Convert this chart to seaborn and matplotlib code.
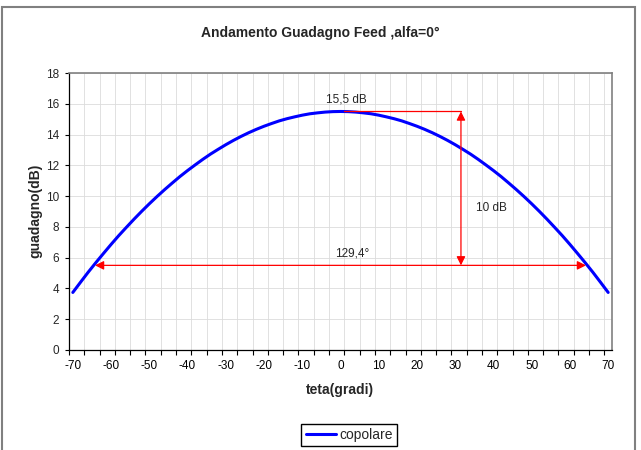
import matplotlib
matplotlib.use("Agg")
import matplotlib.pyplot as plt
import seaborn as sns
import pandas as pd
from matplotlib.patches import Rectangle
from matplotlib.lines import Line2D

# ---- data ----
teta = list(range(-70, 72, 2))
copolare = [3.74, 4.40, 5.05, 5.67, 6.27, 6.86, 7.43, 7.97, 8.50, 9.01,
            9.50, 9.97, 10.42, 10.85, 11.27, 11.66, 12.03, 12.39, 12.73, 13.04,
            13.34, 13.62, 13.88, 14.12, 14.34, 14.54, 14.72, 14.89, 15.03, 15.15,
            15.26, 15.35, 15.41, 15.46, 15.49,
            15.50,
            15.49, 15.46, 15.41, 15.35, 15.26, 15.15, 15.03, 14.89, 14.72, 14.54,
            14.34, 14.12, 13.88, 13.62, 13.34, 13.04, 12.73, 12.39, 12.03, 11.66,
            11.27, 10.85, 10.42, 9.97, 9.50, 9.01, 8.50, 7.97, 7.43, 6.86,
            6.27, 5.67, 5.05, 4.40, 3.74]
peak_gain = 15.5
drop_gain = 5.5
beam_edges = [-64.2, 64.2]
marker_teta = 31.5
peak_label = "15,5 dB"
width_label = "129,4°"
drop_label = "10 dB"
title = "Andamento Guadagno Feed ,alfa=0°"
xlabel = "teta(gradi)"
ylabel = "guadagno(dB)"
series_name = "copolare"
xtick_labels = list(range(-70, 71, 10))
yticks = list(range(0, 19, 2))

sns.set_style("white")
plt.rcParams['font.family'] = ['Liberation Sans', 'DejaVu Sans']

fig = plt.figure(figsize=(6.41, 4.5), dpi=100)
ax = fig.add_axes([69/641, 1-350/450, (612-69)/641, (350-73)/450])

df = pd.DataFrame({'teta': teta, 'guadagno': copolare})
sns.lineplot(data=df, x='teta', y='guadagno', ax=ax, color='#0000ff', lw=2.2,
             legend=False, zorder=3)

ax.set_xlim(-71, 71)
ax.set_ylim(0, 18)
major = [-71 + 4 * k for k in range(36)]
ax.set_xticks(major)
ax.set_xticklabels([])
ax.set_xticks(xtick_labels, minor=True)
ax.set_xticklabels([str(v) for v in xtick_labels], minor=True)
ax.tick_params(axis='x', which='minor', length=0, pad=7, labelsize=8.5, colors='black')
ax.tick_params(axis='x', which='major', direction='out', length=3.5, width=0.8,
               color='black', bottom=True)
ax.set_yticks(yticks)
ax.set_yticklabels([str(v) for v in yticks])
ax.tick_params(axis='y', direction='out', length=3, width=0.8, pad=4,
               labelsize=8.5, color='black', left=True)
ax.set_xlabel('')
ax.set_ylabel('')
ax.grid(True, which='major', axis='both', color='#dcdcdc', lw=0.6)
ax.set_axisbelow(True)

for s in ['left', 'bottom']:
    ax.spines[s].set_color('black')
    ax.spines[s].set_linewidth(0.9)
for s in ['top', 'right']:
    ax.spines[s].set_color('#808080')
    ax.spines[s].set_linewidth(1.2)

# annotations
red = '#ff0000'
ax.plot([1, marker_teta], [peak_gain, peak_gain], color=red, lw=0.9, zorder=4)
arrow_kw = dict(arrowstyle='<|-|>', color=red, lw=0.9, shrinkA=0, shrinkB=0,
                mutation_scale=13)
ax.annotate('', xy=(marker_teta, drop_gain), xytext=(marker_teta, peak_gain),
            arrowprops=arrow_kw, zorder=4)
ax.annotate('', xy=(beam_edges[1], drop_gain), xytext=(beam_edges[0], drop_gain),
            arrowprops=arrow_kw, zorder=4)
ax.text(1.5, 16.3, peak_label, ha='center', va='center', fontsize=8.5)
ax.text(3, 6.3, width_label, ha='center', va='center', fontsize=8.5)
ax.text(35.4, 9.2, drop_label, ha='left', va='center', fontsize=8.5)

# texts
fig.text(0.5, 1-33/450, title, ha='center', va='center', fontsize=10, fontweight='bold')
fig.text(340/641, 1-390/450, xlabel, ha='center', va='center', fontsize=10, fontweight='bold')
fig.text(35/641, 1-211/450, ylabel, ha='center', va='center', fontsize=10,
         fontweight='bold', rotation=90)

# legend
fig.legend(handles=[Line2D([], [], color='#0000ff', lw=2.2)], labels=[series_name],
           loc='center', bbox_to_anchor=(349/641, 1-435/450), frameon=True,
           fancybox=False, edgecolor='black', framealpha=1, fontsize=10,
           handlelength=2.2, borderpad=0.3, handletextpad=0.2)

# outer chart border
fig.add_artist(Rectangle((1.5/641, -0.05), (635-1.5)/641, 1-6.5/450+0.05,
                         transform=fig.transFigure, fill=False,
                         edgecolor='#808080', lw=1.5))

fig.savefig('out.png', dpi=100)
